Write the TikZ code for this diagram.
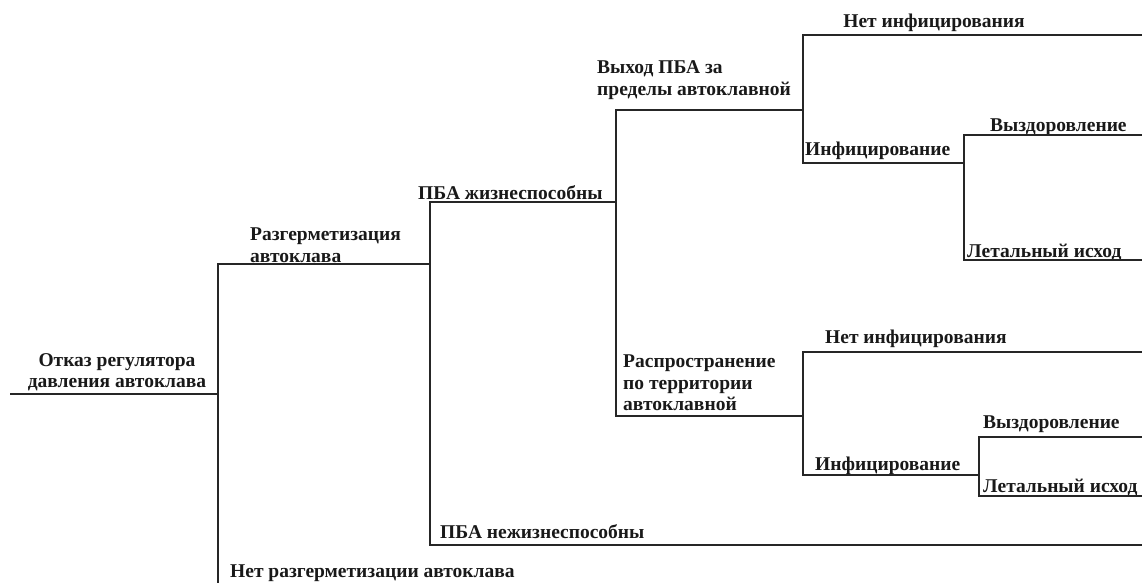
\documentclass[tikz,border=0pt]{standalone}
\usepackage{fontspec}
\setmainfont{Liberation Serif}

\tikzset{
	branch/.style={line width=1.6pt, draw=black!85},
	lbl/.style={font=\fontsize{19.5}{21.5}\selectfont\bfseries, inner sep=0pt, text=black!90}
}

\begin{document}
\begin{tikzpicture}[x=1pt, y=-1pt]
		\useasboundingbox (0,0) rectangle (1142,583);

		\coordinate (s0) at (10,394);
		\coordinate (j1) at (218,394);
		\coordinate (j2) at (430,264);
		\coordinate (j3) at (616,202);
		\coordinate (j4) at (803,110);
		\coordinate (j5) at (964,163);
		\coordinate (j6) at (803,416);
		\coordinate (j7) at (979,475);

		\coordinate (e0) at (1142,584);
		\coordinate (e1) at (1142,545);
		\coordinate (e2) at (1142,35);
		\coordinate (e3) at (1142,135);
		\coordinate (e4) at (1142,260);
		\coordinate (e5) at (1142,352);
		\coordinate (e6) at (1142,437);
		\coordinate (e7) at (1142,496);

		\node[lbl, align=center] at (117,372)(otkaz){Отказ регулятора\\давления автоклава};
		\node[lbl, align=left, anchor=west] at (250,245)(razg){Разгерметизация\\автоклава};
		\node[lbl, anchor=west] at (230,573)(netrazg){Нет разгерметизации автоклава};
		\node[lbl, anchor=west] at (418,193)(zhiz){ПБА жизнеспособны};
		\node[lbl, anchor=west] at (440,532)(nezhiz){ПБА нежизнеспособны};
		\node[lbl, align=left, anchor=west] at (597,80)(vyhod){Выход ПБА за\\пределы автоклавной};
		\node[lbl, align=left, anchor=west] at (623,383)(rasp){Распространение\\ по территории\\ автоклавной};

		\node[lbl] at (934,23)(netinf1){Нет инфицирования};
		\node[lbl, anchor=west] at (805,151)(inf1){Инфицирование};
		\node[lbl, anchor=west] at (990,127)(vyzd1){Выздоровление};
		\node[lbl, anchor=west] at (967,252)(let1){Летальный исход};

		\node[lbl, anchor=west] at (825,339)(netinf2){Нет инфицирования};
		\node[lbl, anchor=west] at (815,466)(inf2){Инфицирование};
		\node[lbl, anchor=west] at (983,424)(vyzd2){Выздоровление};
		\node[lbl, anchor=west] at (983,487)(let2){Летальный исход};

		\draw[branch] (s0) -- (j1);
		\draw[branch] (j1) |- (j2) (j1) |- (e0);
		\draw[branch] (j2) |- (j3) (j2) |- (e1);
		\draw[branch] (j3) |- (j4) (j3) |- (j6);
		\draw[branch] (j4) |- (e2) (j4) |- (j5);
		\draw[branch] (j5) |- (e3) (j5) |- (e4);
		\draw[branch] (j6) |- (e5) (j6) |- (j7);
		\draw[branch] (j7) |- (e6) (j7) |- (e7);
	\end{tikzpicture}
\end{document}
